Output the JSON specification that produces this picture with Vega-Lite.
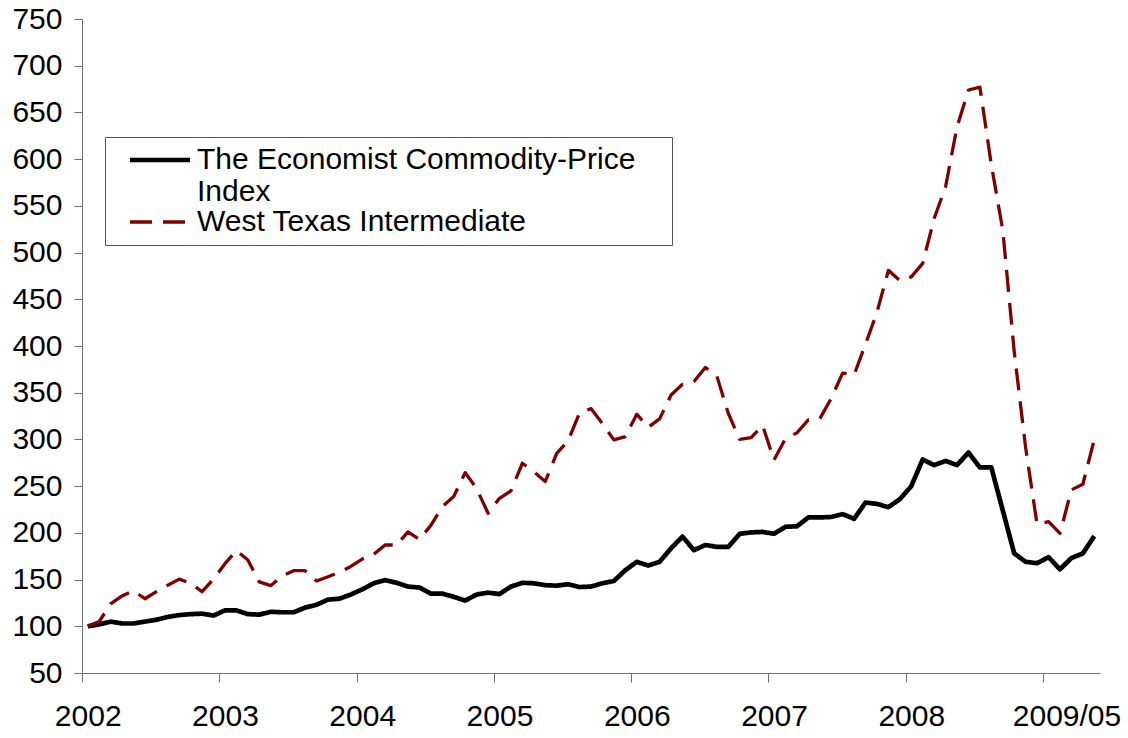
{
  "$schema": "https://vega.github.io/schema/vega-lite/v6.json",
  "width": 1018,
  "height": 654,
  "autosize": {"type": "none"},
  "padding": {"left": 82, "top": 19, "right": 28, "bottom": 65},
  "background": "white",
  "config": {"view": {"stroke": null}, "font": "Liberation Sans"},
  "data": {"values": [
    {"month": "2002-01", "econ": 100, "wti": 100},
    {"month": "2002-02", "econ": 102, "wti": 105},
    {"month": "2002-03", "econ": 105, "wti": 124},
    {"month": "2002-04", "econ": 103, "wti": 132.5},
    {"month": "2002-05", "econ": 103, "wti": 138},
    {"month": "2002-06", "econ": 105, "wti": 129.5},
    {"month": "2002-07", "econ": 107, "wti": 137},
    {"month": "2002-08", "econ": 110, "wti": 144},
    {"month": "2002-09", "econ": 112, "wti": 150.5},
    {"month": "2002-10", "econ": 113, "wti": 146},
    {"month": "2002-11", "econ": 113.5, "wti": 137},
    {"month": "2002-12", "econ": 111.5, "wti": 150.5},
    {"month": "2003-01", "econ": 117, "wti": 167},
    {"month": "2003-02", "econ": 117, "wti": 181},
    {"month": "2003-03", "econ": 113, "wti": 171},
    {"month": "2003-04", "econ": 112.5, "wti": 147.5},
    {"month": "2003-05", "econ": 115.5, "wti": 143.5},
    {"month": "2003-06", "econ": 115, "wti": 154},
    {"month": "2003-07", "econ": 115, "wti": 159.5},
    {"month": "2003-08", "econ": 120, "wti": 159.5},
    {"month": "2003-09", "econ": 123, "wti": 148.5},
    {"month": "2003-10", "econ": 128.5, "wti": 153},
    {"month": "2003-11", "econ": 129.5, "wti": 158},
    {"month": "2003-12", "econ": 134, "wti": 164},
    {"month": "2004-01", "econ": 139.5, "wti": 172},
    {"month": "2004-02", "econ": 146, "wti": 177},
    {"month": "2004-03", "econ": 149.5, "wti": 187},
    {"month": "2004-04", "econ": 146.5, "wti": 187},
    {"month": "2004-05", "econ": 142.5, "wti": 201},
    {"month": "2004-06", "econ": 141.5, "wti": 193},
    {"month": "2004-07", "econ": 135, "wti": 208},
    {"month": "2004-08", "econ": 135, "wti": 228},
    {"month": "2004-09", "econ": 131.5, "wti": 239},
    {"month": "2004-10", "econ": 127.5, "wti": 264.5},
    {"month": "2004-11", "econ": 134, "wti": 247.5},
    {"month": "2004-12", "econ": 136, "wti": 221},
    {"month": "2005-01", "econ": 134.5, "wti": 237},
    {"month": "2005-02", "econ": 142.5, "wti": 245},
    {"month": "2005-03", "econ": 146.5, "wti": 274.5},
    {"month": "2005-04", "econ": 146, "wti": 265.5},
    {"month": "2005-05", "econ": 144, "wti": 255},
    {"month": "2005-06", "econ": 143.5, "wti": 285},
    {"month": "2005-07", "econ": 145, "wti": 298.5},
    {"month": "2005-08", "econ": 142, "wti": 328.5},
    {"month": "2005-09", "econ": 142.5, "wti": 333},
    {"month": "2005-10", "econ": 146, "wti": 317},
    {"month": "2005-11", "econ": 148.5, "wti": 299.5},
    {"month": "2005-12", "econ": 160, "wti": 303},
    {"month": "2006-01", "econ": 169, "wti": 327},
    {"month": "2006-02", "econ": 165, "wti": 313},
    {"month": "2006-03", "econ": 169, "wti": 322},
    {"month": "2006-04", "econ": 183.5, "wti": 347.5},
    {"month": "2006-05", "econ": 196, "wti": 359},
    {"month": "2006-06", "econ": 181.5, "wti": 362},
    {"month": "2006-07", "econ": 187, "wti": 377},
    {"month": "2006-08", "econ": 185, "wti": 368},
    {"month": "2006-09", "econ": 185, "wti": 328},
    {"month": "2006-10", "econ": 199, "wti": 300},
    {"month": "2006-11", "econ": 200.5, "wti": 302},
    {"month": "2006-12", "econ": 201, "wti": 315},
    {"month": "2007-01", "econ": 199, "wti": 278},
    {"month": "2007-02", "econ": 206.5, "wti": 301},
    {"month": "2007-03", "econ": 207, "wti": 307},
    {"month": "2007-04", "econ": 216.5, "wti": 321},
    {"month": "2007-05", "econ": 216.5, "wti": 322},
    {"month": "2007-06", "econ": 217, "wti": 344},
    {"month": "2007-07", "econ": 220, "wti": 371},
    {"month": "2007-08", "econ": 215, "wti": 369},
    {"month": "2007-09", "econ": 232.5, "wti": 402},
    {"month": "2007-10", "econ": 231, "wti": 436},
    {"month": "2007-11", "econ": 227.5, "wti": 481},
    {"month": "2007-12", "econ": 236, "wti": 470},
    {"month": "2008-01", "econ": 250, "wti": 474},
    {"month": "2008-02", "econ": 278.5, "wti": 488.5},
    {"month": "2008-03", "econ": 272.5, "wti": 536.5},
    {"month": "2008-04", "econ": 277, "wti": 570.5},
    {"month": "2008-05", "econ": 272.5, "wti": 634.5},
    {"month": "2008-06", "econ": 286, "wti": 674},
    {"month": "2008-07", "econ": 270, "wti": 677},
    {"month": "2008-08", "econ": 270, "wti": 594},
    {"month": "2008-09", "econ": 224, "wti": 524},
    {"month": "2008-10", "econ": 178, "wti": 394},
    {"month": "2008-11", "econ": 169, "wti": 291},
    {"month": "2008-12", "econ": 167.5, "wti": 209},
    {"month": "2009-01", "econ": 174, "wti": 212},
    {"month": "2009-02", "econ": 161, "wti": 199.5},
    {"month": "2009-03", "econ": 173, "wti": 246},
    {"month": "2009-04", "econ": 178, "wti": 252},
    {"month": "2009-05", "econ": 196.5, "wti": 300}
  ]},
  "transform": [{"fold": ["econ", "wti"], "as": ["series", "value"]}],
  "mark": {"type": "line", "strokeJoin": "round"},
  "encoding": {
    "x": {
      "field": "month", "type": "ordinal",
      "scale": {"type": "point", "padding": 0.5},
      "axis": {
        "title": null,
        "values": ["2002-01", "2003-01", "2004-01", "2005-01", "2006-01", "2007-01", "2008-01", "2009-01"],
        "labelExpr": "datum.value === '2009-01' ? '2009/05' : substring(datum.value, 0, 4)",
        "tickOffset": -5.72,
        "labelOffset": {"condition": {"test": "datum.value === '2009-01'", "value": 23.7}, "value": 5.72},
        "labelAngle": 0,
        "labelFontSize": 30,
        "labelFont": "Liberation Sans",
        "labelColor": "black",
        "labelPadding": 19,
        "labelOverlap": false,
        "labelBound": false,
        "labelFlush": false,
        "tickSize": 9,
        "tickColor": "#707070",
        "domainColor": "#707070",
        "grid": false
      }
    },
    "y": {
      "field": "value", "type": "quantitative",
      "scale": {"domain": [50, 750], "nice": false, "zero": false},
      "axis": {
        "title": null,
        "values": [50, 100, 150, 200, 250, 300, 350, 400, 450, 500, 550, 600, 650, 700, 750],
        "labelFontSize": 30,
        "labelFont": "Liberation Sans",
        "labelColor": "black",
        "labelPadding": 12,
        "tickSize": 8,
        "tickColor": "#707070",
        "domainColor": "#707070",
        "grid": false,
        "labelOverlap": false,
        "labelBound": false,
        "labelFlush": false
      }
    },
    "color": {
      "field": "series", "type": "nominal",
      "scale": {"domain": ["econ", "wti"], "range": ["#000000", "#800000"]},
      "legend": {
        "orient": "none", "legendX": 23, "legendY": 118, "title": null,
        "labelFontSize": 30, "labelFont": "Liberation Sans", "labelColor": "black",
        "labelExpr": "datum.value === 'econ' ? ['The Economist Commodity-Price', 'Index'] : 'West Texas Intermediate'",
        "labelLimit": 0, "symbolType": "M0.2,0H6.2M52.6,0L52.6,0", "symbolSize": 400,
        "strokeColor": "#555555", "fillColor": "white", "padding": 8,
        "rowPadding": 0, "labelOffset": 54
      }
    },
    "strokeDash": {
      "field": "series", "type": "nominal",
      "scale": {"domain": ["econ", "wti"], "range": [[1, 0], [22, 11]]},
      "legend": {
        "orient": "none", "legendX": 23, "legendY": 118, "title": null,
        "labelFontSize": 30, "labelFont": "Liberation Sans", "labelColor": "black",
        "labelExpr": "datum.value === 'econ' ? ['The Economist Commodity-Price', 'Index'] : 'West Texas Intermediate'",
        "labelLimit": 0, "symbolType": "M0.2,0H6.2M52.6,0L52.6,0", "symbolSize": 400,
        "strokeColor": "#555555", "fillColor": "white", "padding": 8,
        "rowPadding": 0, "labelOffset": 54
      }
    },
    "strokeWidth": {
      "field": "series", "type": "nominal",
      "scale": {"domain": ["econ", "wti"], "range": [4.7, 3.3]},
      "legend": {
        "orient": "none", "legendX": 23, "legendY": 118, "title": null,
        "labelFontSize": 30, "labelFont": "Liberation Sans", "labelColor": "black",
        "labelExpr": "datum.value === 'econ' ? ['The Economist Commodity-Price', 'Index'] : 'West Texas Intermediate'",
        "labelLimit": 0, "symbolType": "M0.2,0H6.2M52.6,0L52.6,0", "symbolSize": 400,
        "strokeColor": "#555555", "fillColor": "white", "padding": 8,
        "rowPadding": 0, "labelOffset": 54
      }
    }
  }
}
